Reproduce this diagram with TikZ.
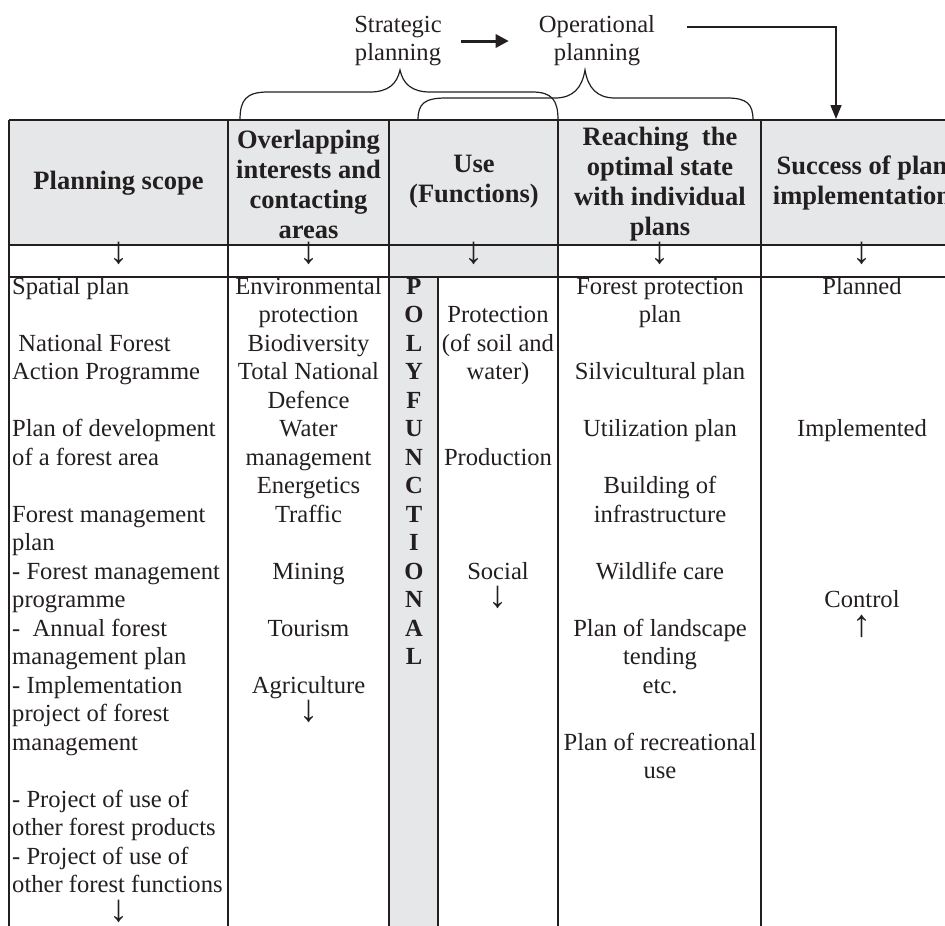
\documentclass[tikz,border=0pt]{standalone}
\usepackage{fontspec}
\setmainfont{Liberation Serif}
\usepackage{tikz}
\usetikzlibrary{
  arrows.meta,
  positioning
}
\definecolor{tabLine}{RGB}{35,31,32}
\definecolor{tabGray}{RGB}{230,231,232}
\newcommand{\dn}{{\fontsize{38}{28.5}\selectfont ↓}}
\newcommand{\upw}{{\fontsize{38}{28.5}\selectfont ↑}}
\tikzset{
  tabHead/.style={
    font=\fontsize{26.5}{30}\selectfont\bfseries,
    text=tabLine,
    align=center,
    inner sep=0pt
  },
  tabCell/.style={
    font=\fontsize{24.6}{28.5}\selectfont,
    text=tabLine,
    anchor=mid,
    inner sep=0pt
  },
  tabLeft/.style={
    tabCell,
    anchor=mid west
  },
  tabLetter/.style={
    tabCell,
    font=\fontsize{24.6}{28.5}\selectfont\bfseries
  },
  planLabel/.style={
    font=\fontsize{24.6}{28}\selectfont,
    text=tabLine,
    align=center,
    inner sep=0pt
  },
  tabBorder/.style={
    draw=tabLine,
    line width=2.6pt
  },
  planBrace/.style={
    draw=tabLine,
    line width=1.2pt
  },
  stageArrow/.style={
    -{Triangle[length=13pt,width=13pt]},
    draw=tabLine,
    line width=3pt
  },
  planArrow/.style={
    -{Triangle[length=14pt,width=11pt]},
    draw=tabLine,
    line width=1.5pt
  }
}

\begin{document}
\begin{tikzpicture}[x=1pt,y=-1pt]
  \useasboundingbox (0,0) rectangle (945,926);
  \clip (0,0) rectangle (945,926);

  % planning stages above the table
  \node[planLabel] (strategic) at (398,41) {Strategic\\planning};
  \node[planLabel] (operational) at (597,41) {Operational\\planning};
  \coordinate (successIn) at (836,119);

  \draw[stageArrow] ([xshift=19pt]strategic.east) -- ([xshift=-30pt]operational.west);
  \draw[planArrow] ([xshift=32pt,yshift=14pt]operational.east) -| (successIn);

  % braces
  \draw[planBrace] (240,120) .. controls (240,100) and (246,92) .. (268,92)
    -- (370,92) .. controls (388,92) and (397,84) .. (400,70)
    .. controls (403,84) and (412,92) .. (430,92)
    -- (532,92) .. controls (552,92) and (558,100) .. (558,120);
  \draw[planBrace] (418,120) .. controls (418,104) and (424,98) .. (446,98)
    -- (555,98) .. controls (573,98) and (582,88) .. (585,70)
    .. controls (588,88) and (597,98) .. (615,98)
    -- (727,98) .. controls (747,98) and (753,104) .. (753,120);

  % table fills
  \fill[tabGray] (9,120) rectangle (963,245);
  \fill[tabGray] (389,245) rectangle (558,277);
  \fill[tabGray] (389,277) rectangle (438,960);

  % table lines
  \foreach \y in {120,245,277}
    \draw[tabBorder] (9,\y) -- (963,\y);
  \foreach \x in {9,228,389,558,761,963}
    \draw[tabBorder] (\x,120) -- (\x,960);
  \draw[tabBorder] (438,277) -- (438,960);

  % header
  \node[tabHead] (scopeHead) at (118.5,183) {Planning scope};
  \node[tabHead] (overlapHead) at (308.5,184) {Overlapping\\interests and\\contacting\\areas};
  \node[tabHead] (useHead) at (474,182) {Use\\(Functions)};
  \node[tabHead] (optimalHead) at (660,184) {Reaching\ \ the\\optimal state\\with individual\\plans};
  \node[tabHead] (successHead) at (862,183) {Success of plan\\implementation};

  \foreach \x/\name in {118.5/scope,308.5/overlap,474/use,660/optimal,862/success}
    \node[tabCell] (\name-arrow) at (\x,261) {\dn};

  % body
  \foreach \k/\txt in {1/Spatial plan,3/{\ National Forest},4/Action Programme,
      6/Plan of development,7/of a forest area,9/Forest management,10/plan,
      11/- Forest management,12/programme,13/{-\ \ Annual forest},14/management plan,
      15/- Implementation,16/project of forest,17/management,
      19/- Project of use of,20/other forest products,21/- Project of use of,
      22/other forest functions}
    \node[tabLeft] (scope-\k) at (12,{292+(\k-1)*28.5}) {\txt};
  \node[tabCell] (scope-23) at (118.5,{292+22*28.5}) {\dn};

  \foreach \k/\txt in {1/Environmental,2/protection,3/Biodiversity,4/Total National,
      5/Defence,6/Water,7/management,8/Energetics,9/Traffic,11/Mining,
      13/Tourism,15/Agriculture,16/\dn}
    \node[tabCell] (overlap-\k) at (308.5,{292+(\k-1)*28.5}) {\txt};

  \foreach \ch [count=\k] in {P,O,L,Y,F,U,N,C,T,I,O,N,A,L}
    \node[tabLetter] (poly-\k) at (414,{292+(\k-1)*28.5}) {\ch};

  \foreach \k/\txt in {2/Protection,3/{(of soil and},4/{water)},7/Production,
      11/Social,12/\dn}
    \node[tabCell] (use-\k) at (498,{292+(\k-1)*28.5}) {\txt};

  \foreach \k/\txt in {1/Forest protection,2/plan,4/Silvicultural plan,
      6/Utilization plan,8/Building of,9/infrastructure,11/Wildlife care,
      13/Plan of landscape,14/tending,15/etc.,17/Plan of recreational,18/use}
    \node[tabCell] (optimal-\k) at (660,{292+(\k-1)*28.5}) {\txt};

  \foreach \k/\txt in {1/Planned,6/Implemented,12/Control,13/\upw}
    \node[tabCell] (success-\k) at (862,{292+(\k-1)*28.5}) {\txt};
\end{tikzpicture}
\end{document}
